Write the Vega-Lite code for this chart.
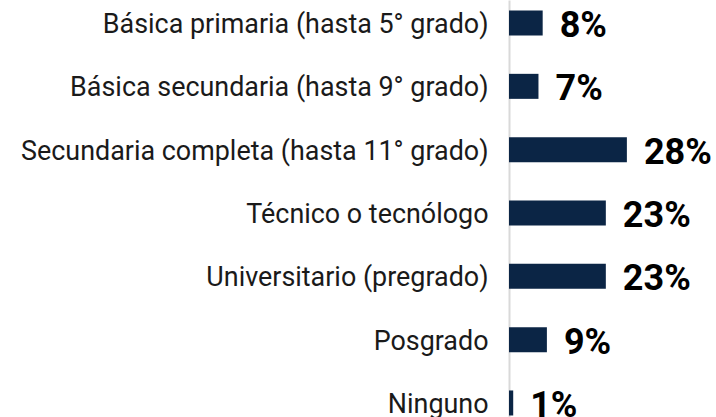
{
  "$schema": "https://vega.github.io/schema/vega-lite/v6.json",
  "autosize": {"type": "none"},
  "padding": {"left": 509, "top": 0, "right": 1, "bottom": 0},
  "width": 206,
  "height": 426,
  "background": "white",
  "config": {"view": {"stroke": null}},
  "data": {
    "values": [
      {"nivel": "Básica primaria (hasta 5° grado)", "pct": 0.08},
      {"nivel": "Básica secundaria (hasta 9° grado)", "pct": 0.07},
      {"nivel": "Secundaria completa (hasta 11° grado)", "pct": 0.28},
      {"nivel": "Técnico o tecnólogo", "pct": 0.23},
      {"nivel": "Universitario (pregrado)", "pct": 0.23},
      {"nivel": "Posgrado", "pct": 0.09},
      {"nivel": "Ninguno", "pct": 0.01}
    ]
  },
  "encoding": {
    "y": {
      "field": "nivel",
      "type": "nominal",
      "sort": null,
      "scale": {"paddingInner": 0.605, "paddingOuter": 0.166},
      "axis": {
        "title": null,
        "ticks": false,
        "tickSize": 0,
        "labelPadding": 21,
        "labelOffset": 2,
        "labelFont": "Roboto",
        "labelFontSize": 26.9,
        "labelColor": "#1a1a1a",
        "labelLimit": 600,
        "domainColor": "#d9d9d9",
        "domainWidth": 2,
        "grid": false
      }
    },
    "x": {
      "field": "pct",
      "type": "quantitative",
      "scale": {"domain": [0, 0.4893]},
      "axis": null
    }
  },
  "layer": [
    {"mark": {"type": "bar", "color": "#0b2545"}},
    {
      "mark": {
        "type": "text",
        "align": "left",
        "baseline": "middle",
        "dx": 17,
        "dy": 3,
        "font": "Roboto",
        "fontSize": 36,
        "fontWeight": "bold",
        "color": "#000000"
      },
      "encoding": {
        "text": {"field": "pct", "type": "quantitative", "format": ".0%"}
      }
    }
  ]
}
